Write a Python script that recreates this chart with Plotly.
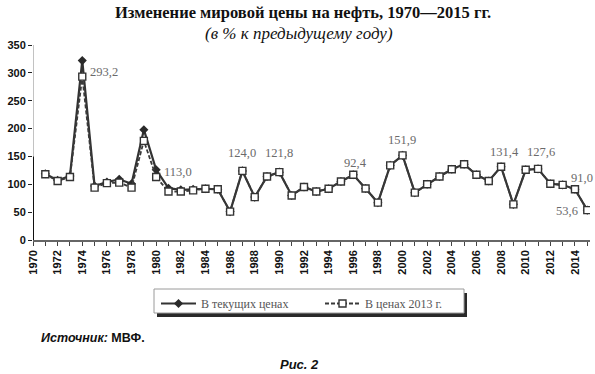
import plotly.graph_objects as go

years = list(range(1971, 2016))
current_prices = [119, 107, 115, 322, 97, 104, 109, 101, 198, 126,
                  93, 90, 91, 92, 91, 51, 124.0, 77, 114, 121.8,
                  80, 95, 87, 92, 105, 117, 92.4, 67, 134, 151.9,
                  85, 100, 114, 127, 136, 117, 106, 131.4, 64, 126,
                  127.6, 101, 99, 91.0, 53.6]
prices_2013 = [118, 106, 113, 293.2, 94, 102, 103, 94, 178, 113.0,
               87, 87, 89, 92, 91, 51, 124.0, 77, 114, 121.8,
               80, 95, 87, 92, 105, 117, 92.4, 67, 134, 151.9,
               85, 100, 114, 127, 136, 117, 106, 131.4, 64, 126,
               127.6, 101, 99, 91.0, 53.6]
series_names = ["В текущих ценах", "В ценах 2013 г."]
tick_years = list(range(1970, 2016))
tick_labels = [str(y) if y % 2 == 0 else "" for y in tick_years]
y_ticks = [0, 50, 100, 150, 200, 250, 300, 350]

value_labels = ["293,2", "113,0", "124,0", "121,8", "92,4", "151,9", "131,4", "127,6", "91,0", "53,6"]
label_px = [(104, 72), (178, 172), (242, 153), (279, 153), (355, 163),
            (402, 140), (504, 152), (541, 152), (582, 178), (567, 211)]

W, H = 595, 374
L, R, T, B = 33, 5, 45, 134
PW, PH = W - L - R, H - T - B


def px(x):
    return (x - L) / PW


def py(y):
    return (H - B - y) / PH


fig = go.Figure()
fig.add_trace(go.Scatter(
    x=years, y=current_prices, name=series_names[0], mode="lines+markers",
    line=dict(color="#333333", width=2.2),
    marker=dict(symbol="diamond", size=7, color="#2a2a2a"),
    legend="legend",
))
fig.add_trace(go.Scatter(
    x=years, y=prices_2013, name=series_names[1], mode="lines+markers",
    line=dict(color="#3a3a3a", width=1.8, dash="4px,2px"),
    marker=dict(symbol="square", size=7, color="white",
                line=dict(color="#333333", width=1.4)),
    legend="legend2",
))

serif = "Liberation Serif, Times New Roman, serif"
narrow = "Liberation Sans Narrow, Arial Narrow, Liberation Sans, Arial, sans-serif"

annotations = []
for txt, (x, y) in zip(value_labels, label_px):
    annotations.append(dict(text=txt, x=px(x), y=py(y), xref="paper", yref="paper",
                            showarrow=False, xanchor="center", yanchor="middle",
                            font=dict(family=serif, size=12.5, color="#6a6a6a")))

annotations += [
    dict(text="Изменение мировой цены на нефть, 1970—2015 гг.", x=px(303), y=py(13),
         xref="paper", yref="paper", showarrow=False, xanchor="center", yanchor="middle",
         font=dict(family=serif, size=16.5, color="#111111", weight="bold")),
    dict(text="<i>(в % к предыдущему году)</i>", x=px(299), y=py(33),
         xref="paper", yref="paper", showarrow=False, xanchor="center", yanchor="middle",
         font=dict(family=serif, size=17, color="#111111")),
    dict(text="<b><i>Источник:</i> МВФ.</b>", x=px(39), y=py(338),
         xref="paper", yref="paper", showarrow=False, xanchor="left", yanchor="middle",
         font=dict(family="Liberation Sans, Arial, sans-serif", size=12.5, color="#111111")),
    dict(text="<b><i>Рис. 2</i></b>", x=px(299), y=py(364),
         xref="paper", yref="paper", showarrow=False, xanchor="center", yanchor="middle",
         font=dict(family="Liberation Sans, Arial, sans-serif", size=13, color="#111111")),
]

shapes = [
    dict(type="line", xref="x", yref="y", x0=1970, x1=1970, y0=150, y1=350,
         line=dict(color="#999999", width=1.2)),
    dict(type="line", xref="x", yref="y", x0=1970, x1=1970, y0=0, y1=150,
         line=dict(color="#111111", width=2)),
    # legend shadow and frame
    dict(type="rect", xref="paper", yref="paper", x0=px(157), x1=px(467),
         y0=py(317), y1=py(293), fillcolor="#2a2a2a", line=dict(width=0), layer="above"),
    dict(type="rect", xref="paper", yref="paper", x0=px(154), x1=px(464),
         y0=py(313), y1=py(289), fillcolor="white", line=dict(color="#9a9a9a", width=1),
         layer="above"),
]

legend_common = dict(orientation="h", xanchor="left", yanchor="top",
                     bgcolor="rgba(0,0,0,0)", borderwidth=0,
                     font=dict(family=serif, size=12, color="#555555"),
                     itemwidth=35, tracegroupgap=0)

fig.update_layout(
    width=W, height=H,
    margin=dict(l=L, r=R, t=T, b=B, pad=0),
    paper_bgcolor="white", plot_bgcolor="white",
    showlegend=True,
    legend=dict(x=px(156), y=py(289), **legend_common),
    legend2=dict(x=px(320), y=py(289), **legend_common),
    xaxis=dict(range=[1970, 2015.22], tickmode="array", tickvals=tick_years, ticktext=tick_labels,
               tickangle=-90, ticks="outside", ticklen=4, tickwidth=1, tickcolor="#444444",
               showline=True, linecolor="#666666", linewidth=1.5, showgrid=False, zeroline=False,
               tickfont=dict(family=narrow, size=11, color="#111111", weight="bold")),
    yaxis=dict(range=[0, 350], tickmode="array", tickvals=y_ticks,
               ticks="outside", ticklen=4, tickwidth=1.2, tickcolor="#222222",
               showline=False, showgrid=False, zeroline=False,
               tickfont=dict(family=narrow, size=11, color="#111111", weight="bold")),
    annotations=annotations,
    shapes=shapes,
)

fig.write_html("out.html", config=dict(displayModeBar=False),
               post_script="document.body.style.margin='0px';document.body.style.overflow='hidden';")
